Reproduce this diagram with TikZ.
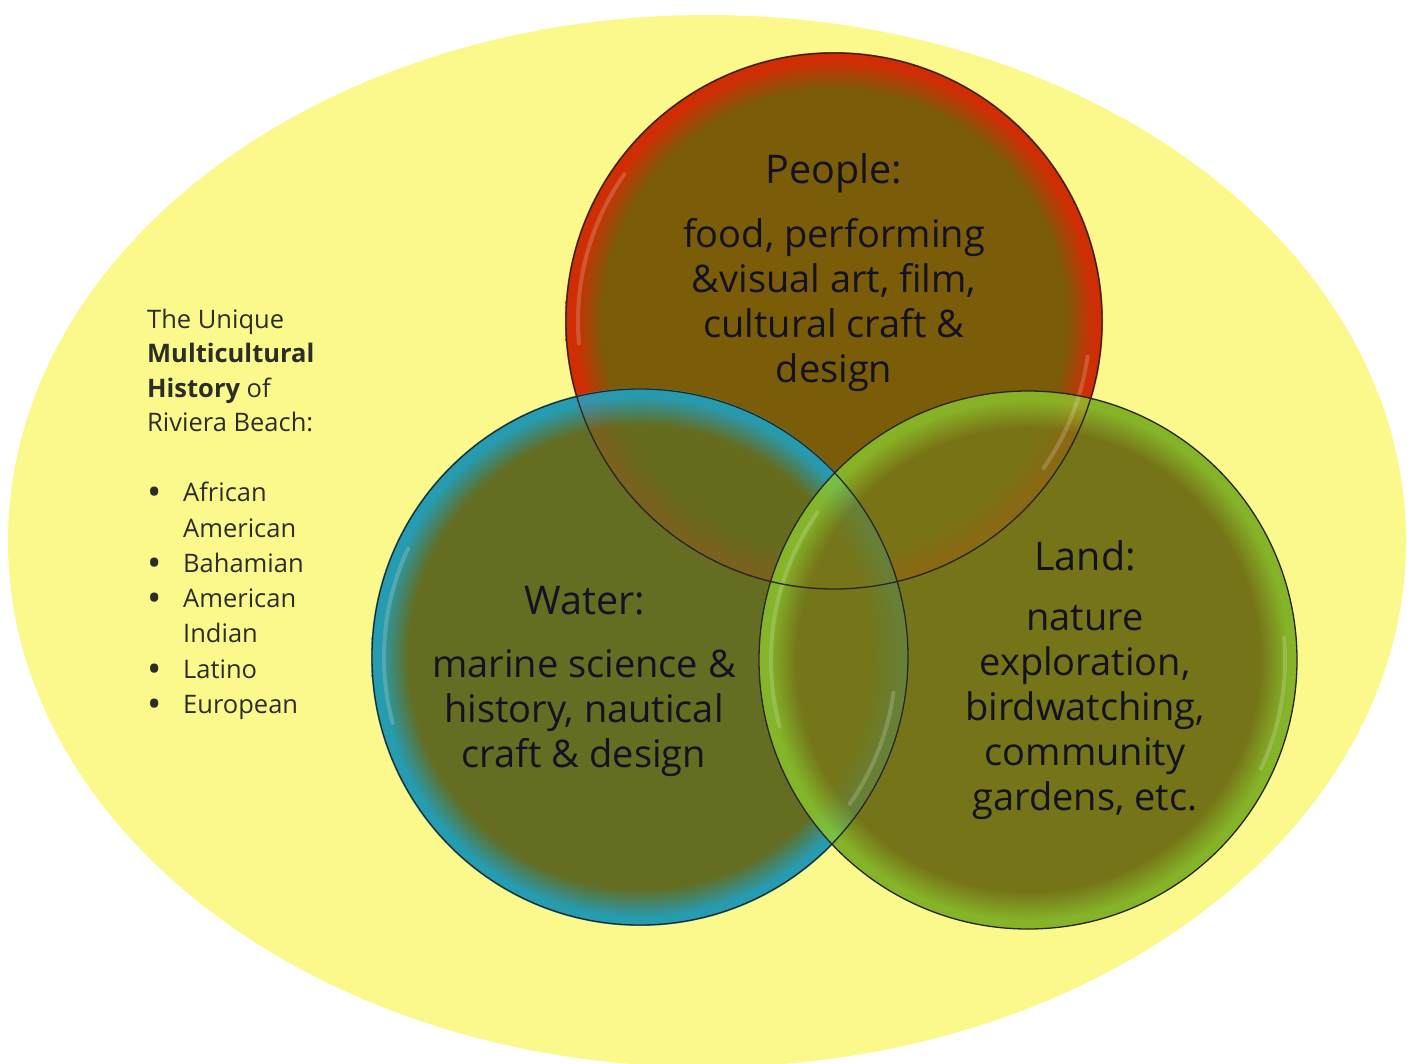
\documentclass[tikz,border=0pt]{standalone}
\usepackage{fontspec}
\setmainfont{Open Sans}
\usetikzlibrary{calc}
\definecolor{bgyel}{RGB}{252,249,140}
\definecolor{basecol}{RGB}{108,100,24}
\definecolor{pin}{RGB}{126,90,6}
\definecolor{prim}{RGB}{235,32,0}
\definecolor{win}{RGB}{98,112,36}
\definecolor{wrim}{RGB}{20,170,215}
\definecolor{lin}{RGB}{120,121,24}
\definecolor{lrim}{RGB}{140,200,45}
\definecolor{txtc}{RGB}{18,18,35}
\definecolor{sidec}{RGB}{45,45,40}
\pgfdeclareradialshading{peopleshade}{\pgfpoint{0bp}{0bp}}{color(0bp)=(pin); color(21.5bp)=(pin); color(24.2bp)=(prim); color(25bp)=(prim); color(50bp)=(prim)}
\pgfdeclareradialshading{watershade}{\pgfpoint{0bp}{0bp}}{color(0bp)=(win); color(21.5bp)=(win); color(24.2bp)=(wrim); color(25bp)=(wrim); color(50bp)=(wrim)}
\pgfdeclareradialshading{landshade}{\pgfpoint{0bp}{0bp}}{color(0bp)=(lin); color(21.5bp)=(lin); color(24.2bp)=(lrim); color(25bp)=(lrim); color(50bp)=(lrim)}
\newcommand\bul{\makebox[36pt][l]{\fontsize{38}{35.3}\selectfont\raisebox{-4pt}{\textbullet}}}
\newcommand\nobul{\makebox[36pt][l]{}}
\begin{document}
\begin{tikzpicture}[x=1pt,y=-1pt,
  venn/.style={circle, inner sep=0pt, outer sep=0pt, minimum size=538pt, fill opacity=0.8},
  rimline/.style={draw=black!85, line width=1.3pt},
  shine/.style={draw=white, line width=4pt, opacity=0.18, line cap=round},
  ctitle/.style={font=\fontsize{39.5}{45}\selectfont, text=txtc, align=center, inner sep=0pt},
  cbody/.style={font=\fontsize{38}{45}\selectfont, text=txtc, align=center, inner sep=0pt},
  sidetext/.style={font=\fontsize{25.5}{34.3}\selectfont, text=sidec, align=left, inner sep=0pt},
  listtext/.style={font=\fontsize{25.5}{35.3}\selectfont, text=sidec, align=left, inner sep=0pt}]
\useasboundingbox (0,0) rectangle (1413,1063);
\fill[white] (0,0) rectangle (1413,1063);
\begin{scope}
\clip (0,0) rectangle (1413,1063);
\fill[bgyel] (707,541) ellipse [x radius=699, y radius=526];
\end{scope}
% circle centres
\coordinate (pc) at (834,321);
\coordinate (wc) at (640,657);
\coordinate (lc) at (1028,660);
% opaque base under the union
\fill[basecol] (pc) circle [radius=268] (wc) circle [radius=268] (lc) circle [radius=269];
% shaded translucent circles
\node[venn, shading=peopleshade] (people) at (pc) {};
\node[venn, shading=watershade] (water) at (wc) {};
\node[venn, shading=landshade] (land) at (lc) {};
% glossy highlights
\draw[shine] (pc) ++(175:256) arc[start angle=175, end angle=215, radius=256];
\draw[shine] (pc) ++(8:256) arc[start angle=8, end angle=35, radius=256];
\draw[shine] (wc) ++(165:256) arc[start angle=165, end angle=205, radius=256];
\draw[shine] (wc) ++(8:256) arc[start angle=8, end angle=35, radius=256];
\draw[shine] (lc) ++(165:257) arc[start angle=165, end angle=215, radius=257];
\draw[shine] (lc) ++(-5:257) arc[start angle=-5, end angle=25, radius=257];
% outlines
\draw[rimline] (pc) circle [radius=268];
\draw[rimline] (wc) circle [radius=268];
\draw[rimline] (lc) circle [radius=269];
% texts
\node[ctitle] (ptitle) at (834,173) {People:};
\node[cbody] (pbody) at (834,305) {food, performing\\ \&visual art, film,\\ cultural craft \&\\ design};
\node[ctitle] (wtitle) at (585,601) {Water:};
\node[cbody] (wbody) at (584,713) {marine science \&\\ history, nautical\\ craft \& design};
\node[ctitle] (ltitle) at (1085,556) {Land:};
\node[cbody] (lbody) at (1085,713) {nature\\ exploration,\\ birdwatching,\\ community\\ gardens, etc.};
\node[sidetext, anchor=north west] (hist) at (147,309) {The Unique\\ \textbf{Multicultural}\\ \textbf{History} of\\ Riviera Beach:};
\node[listtext, anchor=north west] (groups) at (147,482) {\bul African\\ \nobul American\\ \bul Bahamian\\ \bul American\\ \nobul Indian\\ \bul Latino\\ \bul European};
\end{tikzpicture}
\end{document}
